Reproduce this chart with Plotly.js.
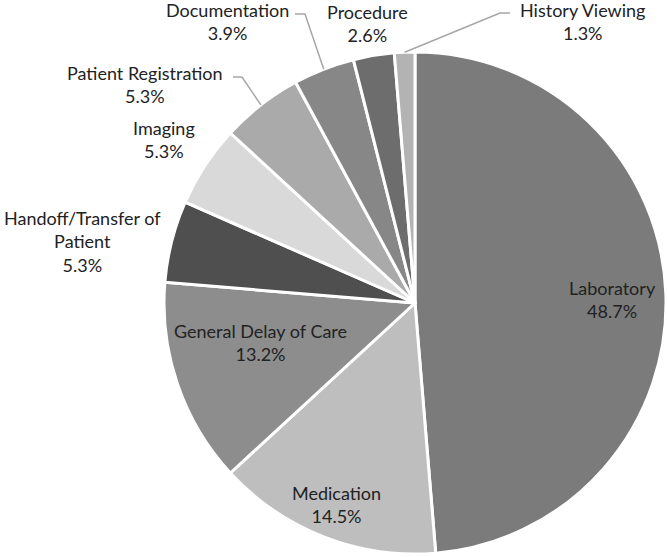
<!DOCTYPE html>
<html>
<head>
<meta charset="utf-8">
<script src="https://cdn.plot.ly/plotly-3.0.1.min.js"></script>
<style>
  html, body { margin: 0; padding: 0; background: #fff; }
  #chart { width: 667px; height: 557px; }
</style>
</head>
<body>
<div id="chart"></div>
<script>
// Data (counts, n = 76)
const categories = ['Laboratory', 'Medication', 'General Delay of Care', 'Handoff/Transfer of Patient',
  'Imaging', 'Patient Registration', 'Documentation', 'Procedure', 'History Viewing'];
const counts = [37, 11, 10, 4, 4, 4, 3, 2, 1];
const sliceColors = ['#7b7b7b', '#bebebe', '#8d8d8d', '#4f4f4f', '#d9d9d9', '#aaaaaa', '#878787', '#6d6d6d', '#b3b3b3'];

const W = 667, H = 557;
const cx = 415, cy = 303, R = 251; // pie geometry in px

// label placement (px, centre of text block), optional elbow for leader line
const labelLayout = {
  'Laboratory': { x: 612, y: 299 },
  'Medication': { x: 336, y: 504 },
  'General Delay of Care': { x: 260, y: 342 },
  'Handoff/Transfer of Patient': { x: 82, y: 241, text: 'Handoff/Transfer of<br>Patient' },
  'Imaging': { x: 164, y: 139 },
  'Patient Registration': { x: 145, y: 84, line: [[233, 77], [242, 77]] },
  'Documentation': { x: 227, y: 21, line: [[295, 14], [305, 14]] },
  'Procedure': { x: 367, y: 24 },
  'History Viewing': { x: 582, y: 21, line: [[510, 13], [500, 13]] }
};

const px = x => x / W;
const py = y => 1 - y / H;

const total = counts.reduce((a, b) => a + b, 0);
const annotations = [];
const shapes = [];
let cum = 0;
categories.forEach((name, i) => {
  const frac = counts[i] / total;
  const mid = (cum + frac / 2) * 2 * Math.PI;
  cum += frac;
  const pos = labelLayout[name];
  const pct = (frac * 100).toFixed(1) + '%';
  annotations.push({
    xref: 'paper', yref: 'paper',
    x: px(pos.x), y: py(pos.y),
    xanchor: 'center', yanchor: 'middle',
    text: (pos.text || name) + '<br>' + pct,
    showarrow: false,
    font: { family: 'Lato, sans-serif', size: 18, color: '#222222' }
  });
  if (pos.line) {
    // end point on the slice edge, from the data
    const ex = cx + R * Math.sin(mid);
    const ey = cy - R * Math.cos(mid);
    const pts = pos.line.concat([[ex, ey]]);
    const path = pts.map((p, k) => (k ? 'L' : 'M') + px(p[0]) + ',' + py(p[1])).join(' ');
    shapes.push({
      type: 'path', xref: 'paper', yref: 'paper', path: path,
      line: { color: '#a6a6a6', width: 1.5 }
    });
  }
});

const trace = {
  type: 'pie',
  labels: categories,
  values: counts,
  sort: false,
  direction: 'clockwise',
  rotation: 0,
  textinfo: 'none',
  hoverinfo: 'label+percent',
  marker: { colors: sliceColors, line: { color: '#ffffff', width: 3 } },
  domain: { x: [px(cx - R), px(cx + R)], y: [py(cy + R), py(cy - R)] }
};

const layout = {
  width: W, height: H,
  margin: { l: 0, r: 0, t: 0, b: 0 },
  showlegend: false,
  paper_bgcolor: '#ffffff',
  annotations: annotations,
  shapes: shapes
};

Plotly.newPlot('chart', [trace], layout, { displayModeBar: false, staticPlot: true });
</script>
</body>
</html>
